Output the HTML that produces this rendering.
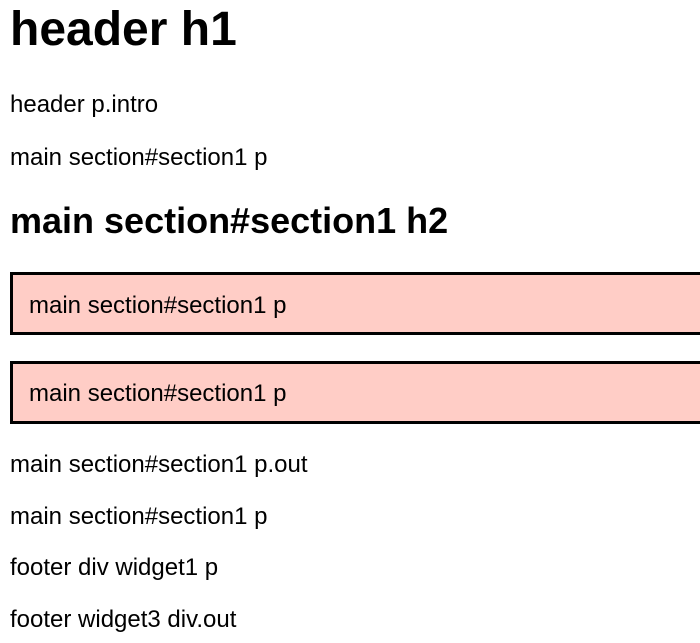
<!DOCTYPE html>
<html><head><meta charset="utf-8"><style>
body{margin:0;width:700px;height:643px;overflow:hidden;background:#fff;font-family:"Liberation Sans",Arial,sans-serif;color:#000;position:relative}
.t{position:absolute;left:10px;line-height:1;white-space:nowrap;font-size:24px}
.b{font-weight:bold}
.box{position:absolute;left:10px;width:720px;border:3px solid #000;background:#ffcdc6;box-sizing:border-box}
</style></head><body>
<div class="t b" style="font-size:48px;top:6px">header h1</div>
<div class="t" style="top:93px">header p.intro</div>
<div class="t" style="top:146px">main section#section1 p</div>
<div class="t b" style="font-size:36px;top:203px">main section#section1 h2</div>
<div class="box" style="top:272px;height:63px"></div>
<div class="t" style="left:29px;top:294px">main section#section1 p</div>
<div class="box" style="top:361px;height:63px"></div>
<div class="t" style="left:29px;top:382px">main section#section1 p</div>
<div class="t" style="top:453px">main section#section1 p.out</div>
<div class="t" style="top:505px">main section#section1 p</div>
<div class="t" style="top:556px">footer div widget1 p</div>
<div class="t" style="top:608px">footer widget3 div.out</div>
</body></html>
